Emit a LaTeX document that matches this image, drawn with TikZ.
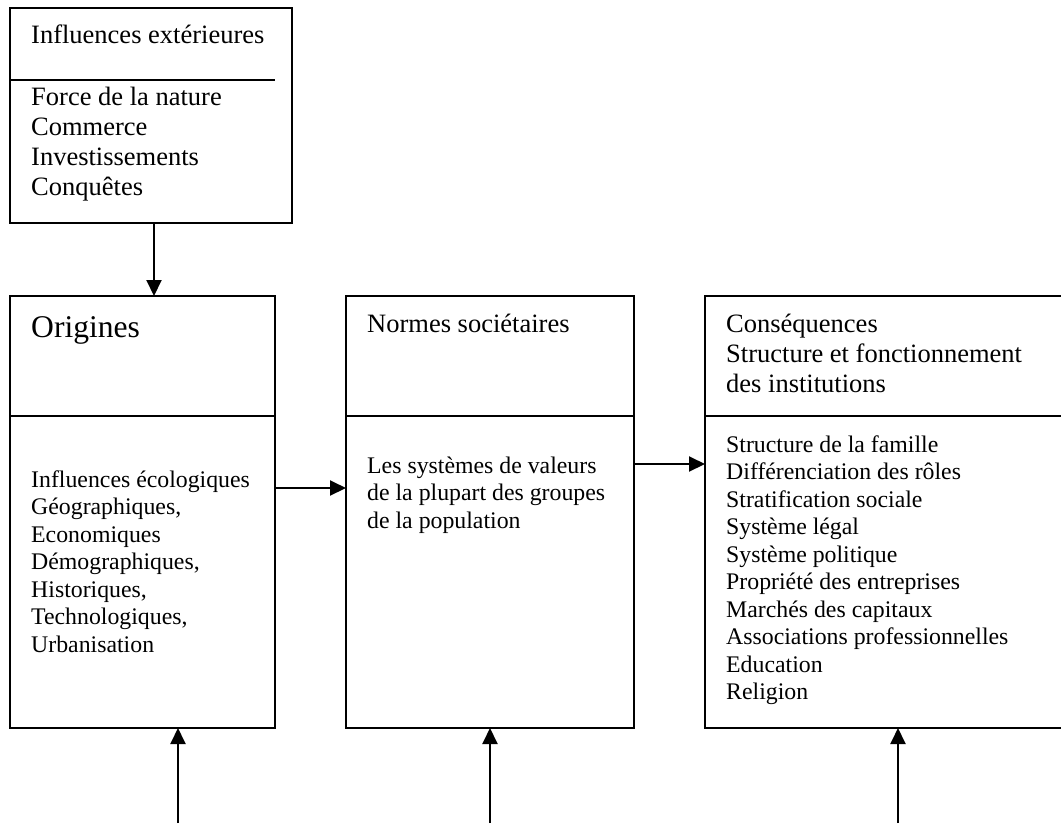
\documentclass[tikz,border=0pt]{standalone}
\usepackage{fontspec}
\setmainfont{Liberation Serif}
\usetikzlibrary{arrows.meta}
\newcommand\hdrfont{\fontsize{26.5}{30}\selectfont}
\newcommand\bodyfont{\fontsize{23.8}{27.5}\selectfont}
\newcommand\orgfont{\fontsize{31.6}{36}\selectfont}
\newcommand\blk[1]{\begin{tabular}[t]{@{}l@{}}#1\end{tabular}}
\begin{document}
\begin{tikzpicture}[x=1pt,y=-1pt,
  box/.style={draw, line width=2.2pt, inner sep=0pt, outer sep=0pt, anchor=north west},
  txt/.style={inner sep=0pt, anchor=base west},
  arr/.style={line width=2pt, -{Triangle[length=16pt,width=15pt]}},
  rule/.style={line width=2.2pt}]
\useasboundingbox (0,0) rectangle (1061,823);
\clip (0,0) rectangle (1061,823);
% boxes
\node[box, minimum width=282pt, minimum height=215pt] (ext) at (10,8) {};
\node[box, minimum width=265pt, minimum height=432pt] (orig) at (10,296) {};
\node[box, minimum width=288pt, minimum height=432pt] (norm) at (346,296) {};
\node[box, minimum width=370pt, minimum height=432pt] (cons) at (705,296) {};
% dividers
\coordinate (d0) at (275,80);
\coordinate (dy) at (0,416);
\draw[rule] (ext.west |- d0) -- (d0);
\draw[rule] (orig.west |- dy) -- (orig.east |- dy);
\draw[rule] (norm.west |- dy) -- (norm.east |- dy);
\draw[rule] (cons.west |- dy) -- (cons.east |- dy);
% texts
\node[txt] (t1) at (31,43) {\hdrfont Influences extérieures};
\node[txt] (t2) at (31,105) {\hdrfont\blk{Force de la nature\\Commerce\\Investissements\\Conquêtes}};
\node[txt] (t3) at (31,337) {\orgfont Origines};
\node[txt] (t4) at (31,487) {\bodyfont\blk{Influences écologiques\\Géographiques,\\Economiques\\Démographiques,\\Historiques,\\Technologiques,\\Urbanisation}};
\node[txt] (t5) at (367,332) {\hdrfont Normes sociétaires};
\node[txt] (t6) at (367,473) {\bodyfont\blk{Les systèmes de valeurs\\de la plupart des groupes\\de la population}};
\node[txt] (t7) at (726,332) {\hdrfont\blk{Conséquences\\Structure et fonctionnement\\des institutions}};
\node[txt] (t8) at (726,452) {\bodyfont\blk{Structure de la famille\\Différenciation des rôles\\Stratification sociale\\Système légal\\Système politique\\Propriété des entreprises\\Marchés des capitaux\\Associations professionnelles\\Education\\Religion}};
% arrows
\coordinate (a0) at (154,0);
\draw[arr] (a0 |- ext.south) -- (a0 |- orig.north);
\coordinate (h1) at (0,488);
\draw[arr] (orig.east |- h1) -- (norm.west |- h1);
\coordinate (h2) at (0,464);
\draw[arr] (norm.east |- h2) -- (cons.west |- h2);
\coordinate (b1) at (178,823);
\coordinate (b2) at (490,823);
\coordinate (b3) at (898,823);
\draw[arr] (b1) -- (b1 |- orig.south);
\draw[arr] (b2) -- (b2 |- norm.south);
\draw[arr] (b3) -- (b3 |- cons.south);
\end{tikzpicture}
\end{document}
